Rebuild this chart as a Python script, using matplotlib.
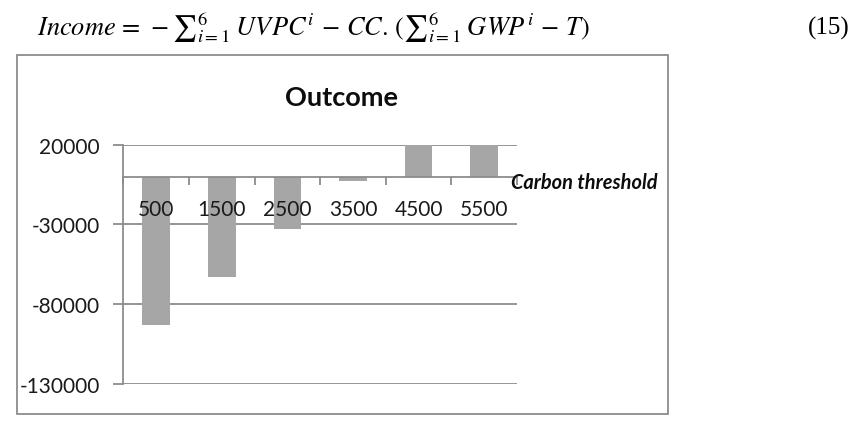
import matplotlib
matplotlib.use("Agg")
import matplotlib.pyplot as plt
from matplotlib.patches import Rectangle
import numpy as np

categories = ["500", "1500", "2500", "3500", "4500", "5500"]
outcome = [-93000, -63000, -33000, -3000, 19500, 19500]
yticks = [20000, -30000, -80000, -130000]
title = "Outcome"
xlabel = "Carbon threshold"

W, H = 861, 439
plt.rcParams['mathtext.fontset'] = 'stix'
fig = plt.figure(figsize=(W / 100, H / 100), dpi=100)

def fx(px):
    return px / W

def fy(py):
    return 1 - py / H

# equation line
fig.text(fx(37), fy(28),
         r"$Income\,=\,-{\sum}_{i=1}^{6}\;UVPC^{i}\,-\,CC.\,({\sum}_{i=1}^{6}\;GWP^{i}\,-\,T)$",
         fontsize=19, ha='left', va='center')
fig.text(fx(850), fy(28), "(15)", fontsize=18, family='Liberation Serif', ha='right', va='center')

# chart frame
fig.patches.append(Rectangle((fx(16.7), fy(415)), fx(668) - fx(16.7), fy(56) - fy(415),
                             transform=fig.transFigure, fill=False, edgecolor='#8c8c8c', lw=1.3))

left, right, top, bottom = 123.3, 517, 145.7, 385
ax = fig.add_axes([fx(left), fy(bottom), fx(right) - fx(left), fy(top) - fy(bottom)])
ax.set_xlim(-0.5, len(categories) - 0.5)
ax.set_ylim(-130000, 20000)

gridc = '#8c8c8c'
for v in yticks:
    ax.axhline(v, color=gridc, lw=1.3, zorder=0.5)

x = np.arange(len(categories))
ax.bar(x, outcome, width=0.42, color='#a6a6a6', zorder=1)

for s in ['top', 'right']:
    ax.spines[s].set_visible(False)
ax.spines['bottom'].set_position(('data', 0))
ax.spines['bottom'].set_color(gridc)
ax.spines['bottom'].set_linewidth(1.3)
ax.spines['left'].set_color(gridc)
ax.spines['left'].set_linewidth(1.3)
ax.set_axisbelow(False)

ax.set_yticks(yticks)
ax.set_yticklabels([str(v) for v in yticks], family='Lato', fontsize=15, color='#1a1a1a')
ax.tick_params(axis='y', length=7, color=gridc, width=1.3, pad=10)

ax.set_xticks(x)
ax.set_xticklabels(categories, family='Lato', fontsize=15, color='#1a1a1a')
ax.tick_params(axis='x', which='major', length=0, pad=16)
ax.set_xticks(np.arange(len(categories) + 1) - 0.5, minor=True)
ax.tick_params(axis='x', which='minor', length=6, color=gridc, width=1.3, direction='out')

fig.text(fx(342), fy(98), title, family='Lato', fontweight='bold', fontsize=19.5,
         ha='center', va='center', color='#0d0d0d')
fig.text(fx(511), fy(183), xlabel, family='Lato', fontweight='bold', fontstyle='italic',
         fontsize=14.4, ha='left', va='center', color='#0d0d0d')

fig.savefig("out.png", dpi=100)
